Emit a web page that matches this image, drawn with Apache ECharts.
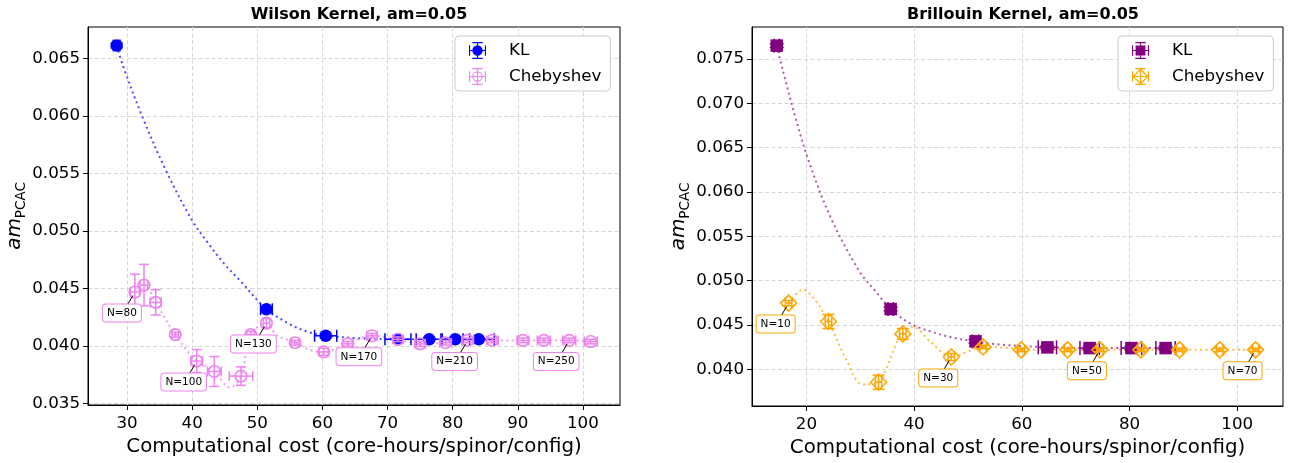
<!DOCTYPE html>
<html><head><meta charset="utf-8">
<script src="https://cdn.jsdelivr.net/npm/echarts@6/dist/echarts.min.js"></script>
<style>html,body{margin:0;padding:0;background:#fff}#c{width:1297px;height:463px}</style>
</head><body><div id="c"></div>
<script>
// ---------------- Wilson kernel (left) ----------------
const wKL_x    = [28.4, 51.4, 60.5, 71.6, 76.4, 80.4, 84.0];
const wKL_y    = [0.0661, 0.0432, 0.0409, 0.0406, 0.0406, 0.0406, 0.0406];
const wKL_xerr = [0.5, 0.9, 1.7, 2.0, 2.0, 2.2, 2.4];
const wKL_yerr = [0.0002, 0.0002, 0.0002, 0.0001, 0.0001, 0.0001, 0.0001];

const wCh_x    = [31.2, 32.6, 34.4, 37.4, 40.7, 43.4, 47.5, 49.0, 51.4, 55.8, 60.2, 63.9, 67.6, 71.6, 75.0, 78.9, 82.3, 86.1, 90.8, 94.0, 97.9, 101.2];
const wCh_y    = [0.0447, 0.0453, 0.0438, 0.0410, 0.0387, 0.0378, 0.0374, 0.0410, 0.0420, 0.0403, 0.0395, 0.0402, 0.0409, 0.0406, 0.0402, 0.0403, 0.0405, 0.0405, 0.0405, 0.0405, 0.0405, 0.0404];
const wCh_xerr = [0.7, 0.6, 0.85, 0.5, 0.9, 1.05, 1.8, 0.6, 0.5, 0.6, 0.7, 0.8, 0.8, 0.8, 0.8, 0.9, 0.9, 0.9, 0.9, 1.0, 1.0, 1.0];
const wCh_yerr = [0.00155, 0.0018, 0.0011, 0.0002, 0.0010, 0.0013, 0.0008, 0.0003, 0.0004, 0.0002, 0.0003, 0.0002, 0.0002, 0.0002, 0.0002, 0.0002, 0.0002, 0.0002, 0.0002, 0.0002, 0.0002, 0.0002];

// dotted curves
const wKLcurve_x = [28.4, 29.4, 32.5, 36.1, 40.0, 42.5, 45.0, 47.5, 50.0, 51.4, 55.0, 58.0, 61.0, 65.0, 72.0, 84.0];
const wKLcurve_y = [0.0661, 0.0643, 0.0597, 0.0551, 0.0509, 0.0489, 0.0471, 0.0456, 0.0440, 0.0432, 0.0419, 0.0412, 0.0409, 0.0407, 0.0406, 0.0406];
const wChcurve_x = [31.2, 32.6, 34.4, 37.4, 40.7, 43.4, 45.8, 47.5, 49.0, 51.4, 53.0, 55.8, 58.5, 60.2, 63.9, 67.6, 71.6, 75.0, 78.9, 82.3, 86.1, 90.8, 94.0, 97.9, 101.2];
const wChcurve_y = [0.0447, 0.0453, 0.0438, 0.0410, 0.0387, 0.0378, 0.0364, 0.0374, 0.0410, 0.0420, 0.04095, 0.0403, 0.0396, 0.0395, 0.0402, 0.0409, 0.0406, 0.0402, 0.0403, 0.0405, 0.0405, 0.0405, 0.0405, 0.0405, 0.0404];

const wAnnIdx = [0, 4, 8, 12, 16, 20];
const wAnnTxt = ['N=80', 'N=100', 'N=130', 'N=170', 'N=210', 'N=250'];

const wXticks = [30, 40, 50, 60, 70, 80, 90, 100];
const wYticks = [0.035, 0.040, 0.045, 0.050, 0.055, 0.060, 0.065];

// ---------------- Brillouin kernel (right) ----------------
const bKL_x    = [14.5, 35.65, 51.4, 64.75, 72.6, 80.35, 86.7];
const bKL_y    = [0.0765, 0.0468, 0.04316, 0.04248, 0.0424, 0.0424, 0.0424];
const bKL_xerr = [0.5, 0.5, 0.6, 1.7, 1.8, 1.9, 1.8];
const bKL_yerr = [0.0002, 0.0002, 0.0002, 0.0002, 0.0002, 0.0002, 0.0002];

const bCh_x    = [16.7, 24.1, 33.4, 37.9, 46.9, 52.8, 59.9, 68.5, 74.5, 82.1, 89.3, 96.75, 103.4];
const bCh_y    = [0.04747, 0.0454, 0.03855, 0.0440, 0.0414, 0.04253, 0.0422, 0.0422, 0.0422, 0.0422, 0.0422, 0.0422, 0.0422];
const bCh_xerr = [0.6, 0.6, 0.6, 0.6, 0.6, 0.6, 0.6, 0.6, 0.6, 0.6, 0.6, 0.6, 0.6];
const bCh_yerr = [0.0003, 0.0008, 0.0008, 0.0006, 0.0004, 0.0002, 0.0002, 0.0002, 0.0002, 0.0002, 0.0002, 0.0002, 0.0002];

const bKLcurve_x = [14.5, 15.0, 18.1, 20.6, 24.6, 29.9, 33.0, 35.65, 39.2, 42.9, 47.8, 51.4, 55.9, 64.75, 72.6, 86.7];
const bKLcurve_y = [0.0765, 0.0752, 0.0681, 0.0632, 0.0570, 0.0510, 0.0487, 0.0468, 0.0452, 0.0443, 0.0435, 0.04316, 0.0428, 0.0425, 0.0424, 0.0424];
const bChcurve_x = [16.7, 19.4, 21.5, 24.1, 27.4, 30.5, 33.4, 34.8, 37.0, 37.9, 39.8, 42.9, 46.9, 50.0, 52.8, 57.7, 59.9, 68.5, 103.4];
const bChcurve_y = [0.04747, 0.0490, 0.0479, 0.0454, 0.0411, 0.0383, 0.03855, 0.0400, 0.04335, 0.0440, 0.0448, 0.0432, 0.0414, 0.0420, 0.04253, 0.0424, 0.0422, 0.0422, 0.0422];

const bAnnIdx = [0, 4, 8, 12];
const bAnnTxt = ['N=10', 'N=30', 'N=50', 'N=70'];

const bXticks = [20, 40, 60, 80, 100];
const bYticks = [0.040, 0.045, 0.050, 0.055, 0.060, 0.065, 0.070, 0.075];

// ---------------- build ----------------
const FONT = 'DejaVu Sans';
const BLUE = '#0000ff', VIOLET = '#ee82ee', PURPLE = '#800080', ORANGE = '#ffa500';

function zip(...arrs) { return arrs[0].map((_, i) => arrs.map(a => a[i])); }

function errRender(color, cap, lw) {
  return function (params, api) {
    const x = api.value(0), y = api.value(1), xe = api.value(2), ye = api.value(3);
    const c = api.coord([x, y]);
    const l = api.coord([x - xe, y]), r = api.coord([x + xe, y]);
    const b = api.coord([x, y - ye]), t = api.coord([x, y + ye]);
    const st = { stroke: color, lineWidth: lw };
    const ln = (x1, y1, x2, y2) => ({ type: 'line', shape: { x1, y1, x2, y2 }, style: st });
    return { type: 'group', children: [
      ln(l[0], c[1], r[0], c[1]),
      ln(l[0], c[1] - cap, l[0], c[1] + cap),
      ln(r[0], c[1] - cap, r[0], c[1] + cap),
      ln(c[0], b[1], c[0], t[1]),
      ln(c[0] - cap, b[1], c[0] + cap, b[1]),
      ln(c[0] - cap, t[1], c[0] + cap, t[1])
    ]};
  };
}

function annRender(color, texts) {
  return function (params, api) {
    const p = api.coord([api.value(0), api.value(1)]);
    return { type: 'group', children: [
      { type: 'line', shape: { x1: p[0] - 7, y1: p[1] + 12, x2: p[0] - 2, y2: p[1] + 3.5 }, style: { stroke: '#000', lineWidth: 1 } },
      { type: 'text', x: p[0] - 13, y: p[1] + 21, style: {
          text: texts[params.dataIndex], fill: '#000', font: '10.5px "DejaVu Sans"',
          align: 'center', verticalAlign: 'middle', backgroundColor: '#fff',
          borderColor: color, borderWidth: 1, borderRadius: 3, padding: [3, 4] } }
    ]};
  };
}

const BARS = 'M1,9.4H19V10.6H1Z M9.4,1H10.6V19H9.4Z M1,4.5H2.2V15.5H1Z M17.8,4.5H19V15.5H17.8Z M4.5,1H15.5V2.2H4.5Z M4.5,17.8H15.5V19H4.5Z ';
const ICON_FCIRCLE = 'path://' + BARS + 'M15.5,10A5.5,5.5,0,1,1,4.5,10A5.5,5.5,0,1,1,15.5,10Z';
const ICON_OCIRCLE = 'path://' + BARS + 'M15.5,10A5.5,5.5,0,1,1,4.5,10A5.5,5.5,0,1,1,15.5,10Z M14.3,10A4.3,4.3,0,1,0,5.7,10A4.3,4.3,0,1,0,14.3,10Z';
const ICON_FSQUARE = 'path://' + BARS + 'M4.8,4.8H15.2V15.2H4.8Z';
const ICON_ODIAMOND = 'path://' + BARS + 'M10,1.5L18.5,10L10,18.5L1.5,10Z M10,3.3L3.3,10L10,16.7L16.7,10Z';

function axisX(grid, min, max, ticks) {
  return {
    gridIndex: grid, type: 'value', min, max,
    name: 'Computational cost (core-hours/spinor/config)', nameLocation: 'middle', nameGap: 32,
    nameTextStyle: { fontSize: 19.8, color: '#000', fontFamily: FONT },
    axisLine: { onZero: false, lineStyle: { color: '#000', width: 1 } },
    axisTick: { show: true, customValues: ticks, length: 5, lineStyle: { color: '#000' } },
    axisLabel: { customValues: ticks, fontSize: 16.7, color: '#000', fontFamily: FONT, margin: 10 },
    splitLine: { show: true, lineStyle: { type: [4, 2.5], color: '#d6d6d6', width: 1 } }
  };
}
function axisY(grid, min, max, ticks) {
  return {
    gridIndex: grid, type: 'value', min, max,
    name: '{a|am}{s|PCAC}', nameLocation: 'middle', nameRotate: 90, nameGap: 58,
    nameTextStyle: { color: '#000', rich: {
      a: { fontSize: 20, fontStyle: 'italic', fontFamily: FONT, color: '#000', verticalAlign: 'top', lineHeight: 24 },
      s: { fontSize: 13.5, fontFamily: FONT, color: '#000', verticalAlign: 'bottom', lineHeight: 24, padding: [8, 0, 0, 0] } } },
    axisLine: { show: true, onZero: false, lineStyle: { color: '#000', width: 1 } },
    axisTick: { show: true, customValues: ticks, length: 5, lineStyle: { color: '#000' } },
    axisLabel: { customValues: ticks, formatter: v => v.toFixed(3), fontSize: 16.7, color: '#000', fontFamily: FONT, margin: 8 },
    splitLine: { show: true, lineStyle: { type: [4, 2.5], color: '#d6d6d6', width: 1 } }
  };
}

function curve(name, g, xs, ys, color) {
  return { name, type: 'line', xAxisIndex: g, yAxisIndex: g, data: zip(xs, ys), smooth: 0.35, symbol: 'none',
    lineStyle: { color, width: 2, type: [2, 3.4] }, z: 1, silent: true };
}
function errs(name, g, xs, ys, xe, ye, color, cap, z) {
  return { name, type: 'custom', xAxisIndex: g, yAxisIndex: g, data: zip(xs, ys, xe, ye),
    renderItem: errRender(color, cap, 1.5), z, silent: true };
}
function anns(name, g, xs, ys, idx, txt, color) {
  return { name, type: 'custom', xAxisIndex: g, yAxisIndex: g,
    data: idx.map(i => [xs[i], ys[i]]), renderItem: annRender(color, txt), z: 20, silent: true };
}

const legendCommon = {
  orient: 'vertical', itemWidth: 17, itemHeight: 17, itemGap: 9,
  padding: [6, 9, 6, 14], backgroundColor: '#fff', borderColor: '#cccccc', borderWidth: 1, borderRadius: 4,
  textStyle: { fontSize: 16.7, fontFamily: FONT, color: '#000', padding: [0, 0, 0, 18] },
  selectedMode: false, formatter: n => n.replace(/_B$/, '')
};

const option = {
  animation: false,
  backgroundColor: '#fff',
  textStyle: { fontFamily: FONT },
  title: [
    { text: 'Wilson Kernel, am=0.05', left: 354, top: 2, textAlign: 'center',
      textStyle: { fontSize: 16, fontWeight: 'bold', fontFamily: FONT, color: '#000' } },
    { text: 'Brillouin Kernel, am=0.05', left: 1018, top: 2, textAlign: 'center',
      textStyle: { fontSize: 16, fontWeight: 'bold', fontFamily: FONT, color: '#000' } }
  ],
  legend: [
    Object.assign({}, legendCommon, { left: 455, top: 36, data: [
      { name: 'KL', icon: ICON_FCIRCLE, itemStyle: { color: BLUE, borderWidth: 0 } },
      { name: 'Chebyshev', icon: ICON_OCIRCLE, itemStyle: { color: VIOLET, borderWidth: 0 } } ] }),
    Object.assign({}, legendCommon, { left: 1118, top: 36, data: [
      { name: 'KL_B', icon: ICON_FSQUARE, itemStyle: { color: PURPLE, borderWidth: 0 } },
      { name: 'Chebyshev_B', icon: ICON_ODIAMOND, itemStyle: { color: ORANGE, borderWidth: 0 } } ] })
  ],
  grid: [
    { left: 88, top: 27, width: 532, height: 378, show: true, borderColor: '#000', borderWidth: 1, backgroundColor: 'transparent' },
    { left: 752, top: 27, width: 531, height: 379, show: true, borderColor: '#000', borderWidth: 1, backgroundColor: 'transparent' }
  ],
  xAxis: [ axisX(0, 24, 105.7, wXticks), axisX(1, 9.9, 108.5, bXticks) ],
  yAxis: [ axisY(0, 0.03489, 0.06771, wYticks), axisY(1, 0.03587, 0.0786, bYticks) ],
  series: [
    curve('wKLfit', 0, wKLcurve_x, wKLcurve_y, 'rgba(0,0,255,0.7)'),
    curve('wChfit', 0, wChcurve_x, wChcurve_y, 'rgba(238,130,238,0.8)'),
    errs('wKLerr', 0, wKL_x, wKL_y, wKL_xerr, wKL_yerr, BLUE, 6, 3),
    { name: 'KL', type: 'scatter', xAxisIndex: 0, yAxisIndex: 0, data: zip(wKL_x, wKL_y),
      symbol: 'circle', symbolSize: 12.5, itemStyle: { color: BLUE, opacity: 1 }, z: 4 },
    errs('wCherr', 0, wCh_x, wCh_y, wCh_xerr, wCh_yerr, VIOLET, 5, 5),
    { name: 'Chebyshev', type: 'scatter', xAxisIndex: 0, yAxisIndex: 0, data: zip(wCh_x, wCh_y),
      symbol: 'circle', symbolSize: 11.5, itemStyle: { color: 'rgba(0,0,0,0)', borderColor: VIOLET, borderWidth: 1.6, opacity: 1 }, z: 6 },
    anns('wAnn', 0, wCh_x, wCh_y, wAnnIdx, wAnnTxt, VIOLET),

    curve('bKLfit', 1, bKLcurve_x, bKLcurve_y, 'rgba(128,0,128,0.65)'),
    curve('bChfit', 1, bChcurve_x, bChcurve_y, 'rgba(255,165,0,0.75)'),
    errs('bKLerr', 1, bKL_x, bKL_y, bKL_xerr, bKL_yerr, PURPLE, 7, 3),
    { name: 'KL_B', type: 'scatter', xAxisIndex: 1, yAxisIndex: 1, data: zip(bKL_x, bKL_y),
      symbol: 'rect', symbolSize: 12.5, itemStyle: { color: PURPLE, opacity: 1 }, z: 4 },
    errs('bCherr', 1, bCh_x, bCh_y, bCh_xerr, bCh_yerr, ORANGE, 6, 5),
    { name: 'Chebyshev_B', type: 'scatter', xAxisIndex: 1, yAxisIndex: 1, data: zip(bCh_x, bCh_y),
      symbol: 'diamond', symbolSize: [16, 16], itemStyle: { color: 'rgba(0,0,0,0)', borderColor: ORANGE, borderWidth: 1.5, opacity: 1 }, z: 6 },
    anns('bAnn', 1, bCh_x, bCh_y, bAnnIdx, bAnnTxt, ORANGE)
  ]
};

const chart = echarts.init(document.getElementById('c'), null, { renderer: 'canvas' });
chart.setOption(option);
</script>
</body></html>
